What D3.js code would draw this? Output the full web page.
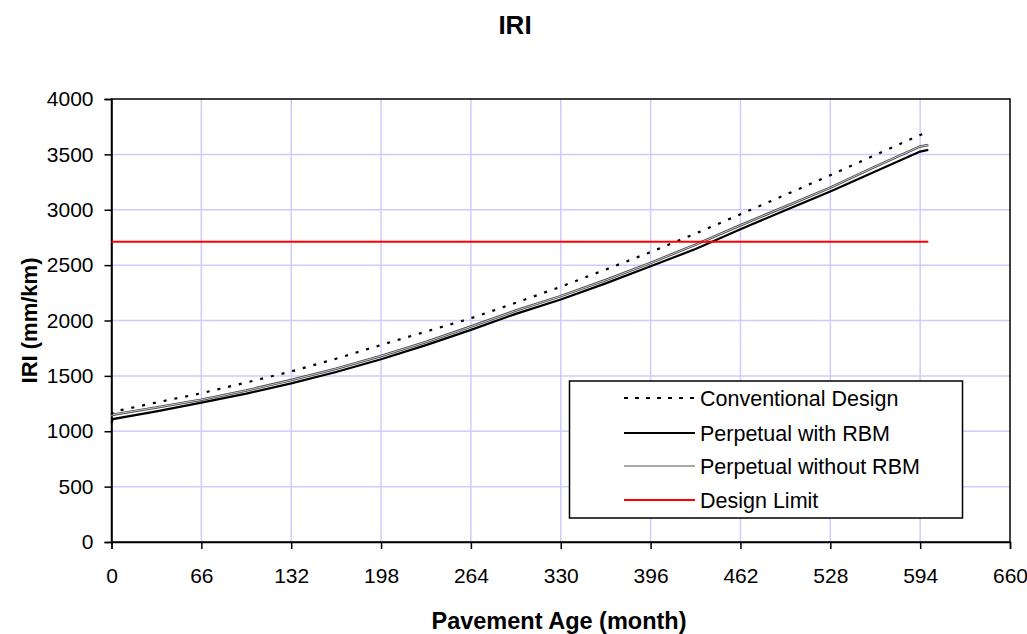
<!DOCTYPE html>
<html><head><meta charset="utf-8">
<script src="https://cdn.jsdelivr.net/npm/d3@7"></script>
<style>body{margin:0;background:#fff}svg{display:block}text{font-family:"Liberation Sans",Arial,sans-serif}</style>
</head><body><svg id="c" width="1027" height="634"></svg>
<script>
const months = [0, 1, 33, 66, 99, 132, 165, 198, 231, 264, 297, 330, 363, 396, 429, 462, 495, 528, 561, 594, 600];
const conventional = [1150, 1175, 1260, 1343, 1440, 1540, 1655, 1779, 1900, 2020, 2160, 2305, 2460, 2618, 2785, 2959, 3135, 3312, 3495, 3675, 3705];
const withRBM = [1075, 1110, 1180, 1258, 1340, 1432, 1535, 1650, 1778, 1915, 2060, 2190, 2335, 2490, 2645, 2825, 2995, 3165, 3345, 3525, 3540];
const withoutRBM = [1140, 1150, 1215, 1285, 1368, 1462, 1565, 1680, 1806, 1945, 2090, 2220, 2365, 2520, 2685, 2860, 3030, 3200, 3390, 3572, 3585];
const designLimit = 2710;
const limitRange = [0, 600];
const xTicks = [0, 66, 132, 198, 264, 330, 396, 462, 528, 594, 660];
const yTicks = [0, 500, 1000, 1500, 2000, 2500, 3000, 3500, 4000];
const legendLabels = ["Conventional Design", "Perpetual with RBM", "Perpetual without RBM", "Design Limit"];

const svg = d3.select("#c");
const L = 111.5, R = 1010, T = 99, B = 542;
const x = d3.scaleLinear().domain([0, 660]).range([L, R]);
const y = d3.scaleLinear().domain([0, 4000]).range([B, T]);

// grid
const grid = svg.append("g").attr("stroke", "#ccccff").attr("stroke-width", 1.5);
grid.selectAll(".v").data(xTicks.slice(1, -1)).join("line")
  .attr("x1", d => x(d)).attr("x2", d => x(d)).attr("y1", T).attr("y2", B);
grid.selectAll(".h").data(yTicks.slice(1, -1)).join("line")
  .attr("y1", d => y(d)).attr("y2", d => y(d)).attr("x1", L).attr("x2", R);

// border
svg.append("rect").attr("x", L).attr("y", T).attr("width", R - L).attr("height", B - T)
  .attr("fill", "none").attr("stroke", "#000").attr("stroke-width", 1.5);

// axes
const xAxis = svg.append("g").attr("transform", `translate(0,${B})`)
  .call(d3.axisBottom(x).tickValues(xTicks).tickSize(7).tickPadding(19).tickFormat(d3.format("d")));
const yAxis = svg.append("g").attr("transform", `translate(${L},0)`)
  .call(d3.axisLeft(y).tickValues(yTicks).tickSize(7).tickPadding(11).tickFormat(d3.format("d")));
[xAxis, yAxis].forEach(a => {
  a.select(".domain").attr("stroke", "#000").attr("stroke-width", 1.5);
  a.selectAll(".tick line").attr("stroke", "#000").attr("stroke-width", 1.5);
  a.selectAll(".tick text").attr("font-size", 21).attr("fill", "#000")
    .style("font-family", '"Liberation Sans",Arial,sans-serif');
});
xAxis.selectAll(".tick text").attr("dy", "0.71em");

const line = d3.line().x((d, i) => x(months[i])).y(d => y(d));

// series
svg.append("path").datum(withoutRBM).attr("d", line).attr("fill", "none")
  .attr("stroke", "#444").attr("stroke-width", 2.6);
svg.append("path").datum(withoutRBM).attr("d", line).attr("fill", "none")
  .attr("stroke", "#d8d8d8").attr("stroke-width", 0.9);
svg.append("path").datum(withRBM).attr("d", line).attr("fill", "none")
  .attr("stroke", "#000").attr("stroke-width", 2.2);
svg.append("path").datum(conventional).attr("d", line).attr("fill", "none")
  .attr("stroke", "#000").attr("stroke-width", 2.2).attr("stroke-dasharray", "3 8");
svg.append("line").attr("x1", x(limitRange[0])).attr("x2", x(limitRange[1]))
  .attr("y1", y(designLimit)).attr("y2", y(designLimit))
  .attr("stroke", "#ff0000").attr("stroke-width", 2);

// legend
const lg = svg.append("g");
lg.append("rect").attr("x", 569.5).attr("y", 381).attr("width", 393).attr("height", 137)
  .attr("fill", "#fff").attr("stroke", "#000").attr("stroke-width", 1.5);
const styles = [
  {stroke: "#000", w: 2, dash: "4 7"},
  {stroke: "#000", w: 2, dash: null},
  {stroke: "#555", w: 1, dash: null},
  {stroke: "#ff0000", w: 2, dash: null}
];
const rowsY = [398, 433, 466, 500];
legendLabels.forEach((lab, i) => {
  const s = styles[i];
  const ln = lg.append("line").attr("x1", 624).attr("x2", 695).attr("y1", rowsY[i]).attr("y2", rowsY[i])
    .attr("stroke", s.stroke).attr("stroke-width", s.w);
  if (s.dash) ln.attr("stroke-dasharray", s.dash);
  lg.append("text").attr("x", 700).attr("y", rowsY[i]).attr("dy", "0.35em")
    .attr("font-size", 21.5).text(lab);
});

// titles
svg.append("text").attr("x", 515).attr("y", 34).attr("text-anchor", "middle")
  .attr("font-size", 26).attr("font-weight", "bold").text("IRI");
svg.append("text").attr("x", 559).attr("y", 629).attr("text-anchor", "middle")
  .attr("font-size", 23.5).attr("font-weight", "bold").text("Pavement Age (month)");
svg.append("text").attr("transform", `translate(37,${(T + B) / 2}) rotate(-90)`)
  .attr("text-anchor", "middle").attr("font-size", 22).attr("font-weight", "bold").text("IRI (mm/km)");
</script></body></html>
